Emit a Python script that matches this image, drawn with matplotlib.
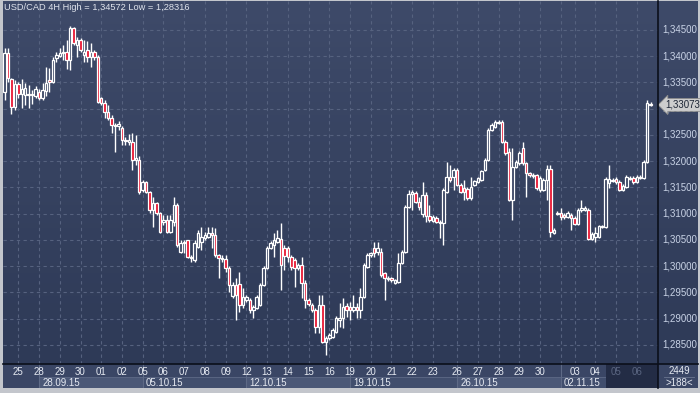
import numpy as np
import matplotlib
matplotlib.use("Agg")
import matplotlib.pyplot as plt
from matplotlib.patches import Rectangle
from matplotlib.lines import Line2D
from matplotlib.transforms import blended_transform_factory
from matplotlib.colors import LinearSegmentedColormap

plt.rcParams['font.family'] = ['Liberation Sans', 'DejaVu Sans']

# ---------------- data (USD/CAD 4H candles) ----------------
opens = [1.3332, 1.3406, 1.3357, 1.3303, 1.3347, 1.3328, 1.3326, 1.3328, 1.3326, 1.3324,
         1.3332, 1.3321, 1.3334, 1.3355, 1.3351, 1.3397, 1.3400, 1.3406, 1.3408, 1.3393,
         1.3454, 1.3421, 1.3431, 1.3402, 1.3412, 1.3399, 1.3408, 1.3399, 1.3321, 1.3311,
         1.3294, 1.3282, 1.3269, 1.3267, 1.3263, 1.3241, 1.3237, 1.3237, 1.3202, 1.3202,
         1.3145, 1.3160, 1.3141, 1.3107, 1.3120, 1.3101, 1.3084, 1.3088, 1.3065, 1.3084,
         1.3117, 1.3027, 1.3044, 1.3050, 1.3018, 1.3012, 1.3037, 1.3046, 1.3054, 1.3056,
         1.3063, 1.3060, 1.3021, 1.3016, 1.3014, 1.2997, 1.2943, 1.2964, 1.2966, 1.2926,
         1.2936, 1.2936, 1.2917, 1.2920, 1.2926, 1.2964, 1.2997, 1.3035, 1.3040, 1.3046,
         1.3052, 1.3035, 1.3035, 1.3018, 1.3012, 1.2997, 1.3002, 1.2968, 1.2936, 1.2926,
         1.2917, 1.2884, 1.2926, 1.2856, 1.2863, 1.2865, 1.2875, 1.2898, 1.2901, 1.2924,
         1.2922, 1.2917, 1.2922, 1.2917, 1.2941, 1.2999, 1.3021, 1.3035, 1.3027, 1.3027,
         1.2987, 1.2976, 1.2978, 1.2968, 1.2970, 1.3006, 1.3027, 1.3113, 1.3138, 1.3140,
         1.3122, 1.3100, 1.3136, 1.3096, 1.3086, 1.3092, 1.3082, 1.3082, 1.3141, 1.3170,
         1.3170, 1.3183, 1.3155, 1.3149, 1.3147, 1.3130, 1.3155, 1.3160, 1.3164, 1.3183,
         1.3202, 1.3260, 1.3265, 1.3273, 1.3275, 1.3237, 1.3218, 1.3126, 1.3189, 1.3196,
         1.3225, 1.3196, 1.3178, 1.3174, 1.3174, 1.3145, 1.3145, 1.3164, 1.3185, 1.3063,
         1.3100, 1.3101, 1.3098, 1.3094, 1.3098, 1.3092, 1.3081, 1.3107, 1.3107, 1.3107,
         1.3052, 1.3056, 1.3056, 1.3075, 1.3075, 1.3159, 1.3162, 1.3166, 1.3160, 1.3145,
         1.3151, 1.3166, 1.3168, 1.3160, 1.3168, 1.3168, 1.3198, 1.3309]
highs = [1.3416, 1.3416, 1.3359, 1.3355, 1.3351, 1.3357, 1.3349, 1.3345, 1.3336, 1.3343,
         1.3338, 1.3349, 1.3380, 1.3378, 1.3399, 1.3408, 1.3416, 1.3421, 1.3431, 1.34572,
         1.3456, 1.3437, 1.3435, 1.3431, 1.3429, 1.3425, 1.3412, 1.3402, 1.3322, 1.3317,
         1.3307, 1.3288, 1.3273, 1.3277, 1.3267, 1.3246, 1.3252, 1.3254, 1.3250, 1.3210,
         1.3164, 1.3162, 1.3143, 1.3132, 1.3122, 1.3103, 1.3098, 1.3098, 1.3098, 1.3132,
         1.3120, 1.3050, 1.3050, 1.3050, 1.3021, 1.3050, 1.3069, 1.3075, 1.3065, 1.3075,
         1.3075, 1.3073, 1.3023, 1.3021, 1.3021, 1.3000, 1.2970, 1.2978, 1.2989, 1.2959,
         1.2945, 1.2940, 1.2926, 1.2945, 1.2968, 1.3000, 1.3039, 1.3048, 1.3063, 1.3069,
         1.3082, 1.3040, 1.3039, 1.3021, 1.3016, 1.3006, 1.3018, 1.2974, 1.2940, 1.2930,
         1.2920, 1.2945, 1.2945, 1.2867, 1.2873, 1.2882, 1.2905, 1.2930, 1.2940, 1.2930,
         1.2932, 1.2945, 1.2930, 1.2959, 1.3006, 1.3025, 1.3027, 1.3046, 1.3046, 1.3035,
         1.2989, 1.2981, 1.2980, 1.2976, 1.3025, 1.3031, 1.3117, 1.3145, 1.3145, 1.3143,
         1.3132, 1.3160, 1.3141, 1.3117, 1.3098, 1.3096, 1.3088, 1.3149, 1.3198, 1.3193,
         1.3187, 1.3187, 1.3159, 1.3164, 1.3151, 1.3170, 1.3164, 1.3170, 1.3183, 1.3206,
         1.3263, 1.3273, 1.3279, 1.3279, 1.3279, 1.3241, 1.3225, 1.3225, 1.3202, 1.3220,
         1.3237, 1.3198, 1.3180, 1.3178, 1.3176, 1.3172, 1.3168, 1.3193, 1.3193, 1.3073,
         1.3105, 1.3111, 1.3101, 1.3105, 1.3101, 1.3096, 1.3111, 1.3126, 1.3115, 1.3111,
         1.3065, 1.3075, 1.3079, 1.3079, 1.3170, 1.3193, 1.3168, 1.3170, 1.3164, 1.3157,
         1.3174, 1.3172, 1.3172, 1.3174, 1.3174, 1.3202, 1.3317, 1.3313]
lows = [1.3317, 1.3351, 1.3290, 1.3298, 1.3321, 1.3302, 1.3307, 1.3302, 1.3309, 1.3321,
        1.3317, 1.3317, 1.3324, 1.3332, 1.3349, 1.3389, 1.3399, 1.3393, 1.3376, 1.3374,
        1.3421, 1.3399, 1.3408, 1.3389, 1.3389, 1.3380, 1.3393, 1.3311, 1.3307, 1.3282,
        1.3279, 1.3254, 1.3218, 1.3260, 1.3231, 1.3231, 1.3231, 1.3183, 1.3193, 1.3138,
        1.3141, 1.3140, 1.3101, 1.3075, 1.3098, 1.3063, 1.3079, 1.3063, 1.3063, 1.3077,
        1.3037, 1.3025, 1.3025, 1.3016, 1.3008, 1.3008, 1.3035, 1.3031, 1.3050, 1.3054,
        1.3035, 1.3018, 1.2978, 1.3008, 1.2989, 1.2951, 1.2939, 1.2898, 1.2913, 1.2920,
        1.2932, 1.2911, 1.2901, 1.2919, 1.2924, 1.2962, 1.2995, 1.3033, 1.3018, 1.3044,
        1.2955, 1.2993, 1.3008, 1.2993, 1.2960, 1.2993, 1.2939, 1.2920, 1.2924, 1.2913,
        1.2873, 1.2873, 1.2854, 1.28316, 1.2860, 1.2863, 1.2873, 1.2884, 1.2882, 1.2903,
        1.2898, 1.2913, 1.2901, 1.2901, 1.2939, 1.2997, 1.3018, 1.3018, 1.3021, 1.2980,
        1.2936, 1.2972, 1.2970, 1.2966, 1.2968, 1.3004, 1.3025, 1.3111, 1.3107, 1.3120,
        1.3107, 1.3094, 1.3084, 1.3084, 1.3084, 1.3082, 1.3054, 1.3040, 1.3140, 1.3160,
        1.3145, 1.3153, 1.3140, 1.3126, 1.3126, 1.3126, 1.3153, 1.3159, 1.3162, 1.3181,
        1.3200, 1.3258, 1.3263, 1.3271, 1.3235, 1.3212, 1.3124, 1.3088, 1.3187, 1.3193,
        1.3193, 1.3132, 1.3170, 1.3168, 1.3145, 1.3141, 1.3143, 1.3126, 1.3056, 1.3061,
        1.3098, 1.3088, 1.3090, 1.3092, 1.3069, 1.3079, 1.3079, 1.3103, 1.3105, 1.3050,
        1.3050, 1.3046, 1.3054, 1.3073, 1.3073, 1.3149, 1.3160, 1.3157, 1.3143, 1.3143,
        1.3149, 1.3164, 1.3157, 1.3159, 1.3166, 1.3166, 1.3196, 1.3305]
closes = [1.3406, 1.3359, 1.3303, 1.3347, 1.3328, 1.3338, 1.3340, 1.3326, 1.3328, 1.3338,
          1.3321, 1.3336, 1.3349, 1.3351, 1.3393, 1.3402, 1.3406, 1.3408, 1.3393, 1.3454,
          1.3425, 1.3431, 1.3412, 1.3408, 1.3399, 1.3408, 1.3399, 1.3313, 1.3311, 1.3294,
          1.3282, 1.3269, 1.3267, 1.3271, 1.3241, 1.3239, 1.3241, 1.3202, 1.3206, 1.3141,
          1.3160, 1.3141, 1.3107, 1.3120, 1.3101, 1.3065, 1.3088, 1.3065, 1.3088, 1.3117,
          1.3040, 1.3044, 1.3046, 1.3018, 1.3016, 1.3044, 1.3063, 1.3056, 1.3060, 1.3063,
          1.3060, 1.3021, 1.3016, 1.3014, 1.2997, 1.2964, 1.2964, 1.2945, 1.2926, 1.2941,
          1.2941, 1.2917, 1.2922, 1.2941, 1.2964, 1.2997, 1.3035, 1.3044, 1.3050, 1.3054,
          1.3002, 1.3019, 1.3018, 1.2999, 1.2997, 1.3002, 1.2968, 1.2936, 1.2928, 1.2917,
          1.2884, 1.2926, 1.2856, 1.2863, 1.2869, 1.2879, 1.2901, 1.2901, 1.2922, 1.2917,
          1.2917, 1.2922, 1.2917, 1.2941, 1.3002, 1.3021, 1.3025, 1.3025, 1.3035, 1.2983,
          1.2978, 1.2978, 1.2974, 1.2974, 1.3006, 1.3027, 1.3113, 1.3138, 1.3141, 1.3122,
          1.3113, 1.3136, 1.3096, 1.3088, 1.3094, 1.3084, 1.3084, 1.3145, 1.3170, 1.3164,
          1.3183, 1.3155, 1.3141, 1.3141, 1.3130, 1.3151, 1.3162, 1.3168, 1.3181, 1.3202,
          1.3260, 1.3269, 1.3275, 1.3275, 1.3237, 1.3216, 1.3126, 1.3189, 1.3198, 1.3216,
          1.3196, 1.3178, 1.3174, 1.3172, 1.3149, 1.3168, 1.3164, 1.3185, 1.3065, 1.3069,
          1.3101, 1.3094, 1.3094, 1.3101, 1.3092, 1.3081, 1.3107, 1.3111, 1.3111, 1.3052,
          1.3061, 1.3063, 1.3077, 1.3077, 1.3166, 1.3166, 1.3164, 1.3160, 1.3145, 1.3153,
          1.3170, 1.3168, 1.3160, 1.3170, 1.3170, 1.3198, 1.3311, 1.33073]

day_ticks = [4, 10, 16, 22, 28, 34, 40, 46, 52, 58, 64, 70, 76, 82, 88, 94,
             100, 106, 112, 118, 124, 131, 137, 143, 149, 155, 161, 165, 171, 177, 183]
day_labels = ['25', '28', '29', '30', '01', '02', '05', '06', '07', '08', '09',
              '12', '13', '14', '15', '16', '19', '20', '21', '22', '23',
              '26', '27', '28', '29', '30', '', '03', '04', '05', '06']
week_ticks = [10, 40, 70, 100, 131, 161]
week_labels = ['28.09.15', '05.10.15', '12.10.15', '19.10.15', '26.10.15', '02.11.15']
price_ticks = [1.285, 1.290, 1.295, 1.300, 1.305, 1.310, 1.315, 1.320,
               1.325, 1.330, 1.335, 1.340, 1.345]
title = 'USD/CAD 4H High = 1,34572 Low = 1,28316'
last_price = 1.33073
bars_total, bars_visible = '2449', '>188<'

# ---------------- layout ----------------
W, H = 700, 393
fig = plt.figure(figsize=(W / 100, H / 100), dpi=100)
fig.patch.set_facecolor('#c3c6cc')


def fr(x0, y0, x1, y1):
    return [x0 / W, 1 - y1 / H, (x1 - x0) / W, (y1 - y0) / H]


bg = fig.add_axes(fr(3, 1, 698, 364))
bg.set_axis_off()
grad = np.linspace(0, 1, 256).reshape(-1, 1)
cmap = LinearSegmentedColormap.from_list('bg', ['#3e4a69', '#2e3a57'])
bg.imshow(grad, aspect='auto', cmap=cmap, extent=[0, 1, 0, 1], origin='upper')

ax = fig.add_axes(fr(3, 1, 658, 364))
ax.set_facecolor('none')
for s in ax.spines.values():
    s.set_visible(False)

o = np.array(opens)
c = np.array(closes)
hi = np.array(highs)
lo = np.array(lows)
x = np.arange(len(c))

first_px, step_px = 4.5, 3.455
xlim = ((3 - first_px) / step_px, (658 - first_px) / step_px)

grid_kw = dict(color='#56627f', lw=0.8, ls=(0, (3, 3)), zorder=1)
for p in price_ticks:
    ax.axhline(p, **grid_kw)
for d in day_ticks:
    ax.axvline(d, **grid_kw)

ax.vlines(x, lo, hi, color='white', lw=1.0, zorder=3)
down = c < o
fills = np.where(down, '#e8102c', '#34405e')
bottoms = np.minimum(o, c)
heights = np.maximum(np.abs(c - o), 0.00004)
ax.bar(x, heights, bottom=bottoms, width=0.72, color=fills,
       edgecolor='white', linewidth=0.9, zorder=4)

ax.set_xlim(*xlim)
ax.set_ylim(1.28138, 1.35052)
ax.set_xticks([])
ax.set_yticks([])

tr = blended_transform_factory(ax.transAxes, ax.transData)
for p in price_ticks:
    ax.text(1 + 4 / 655, p, f"{p:.5f}".replace('.', ','), transform=tr,
            ha='left', va='center', fontsize=7, color='#c9d3e6', clip_on=False)
ax.text(1 + 7 / 655, last_price, f"{last_price:.5f}".replace('.', ','), transform=tr,
        ha='left', va='center', fontsize=7, color='#1d2535', clip_on=False, zorder=10,
        bbox=dict(boxstyle='larrow,pad=0.15', fc='#cdcdcd', ec='#8a8a8a', lw=0.6))

# ---------------- bottom band ----------------
band = fig.add_axes(fr(3, 364, 658, 388))
band.set_axis_off()
band.set_xlim(*xlim)
band.set_ylim(0, 1)
band.add_patch(Rectangle((xlim[0], 0), xlim[1] - xlim[0], 1, fc='#3a4665', ec='none', zorder=0))
dark_start = (day_ticks[-3] + day_ticks[-2]) / 2
for k, wt in enumerate(week_ticks):
    end = week_ticks[k + 1] if k + 1 < len(week_ticks) else dark_start
    band.add_patch(Rectangle((wt, 0.02), end - wt, 0.44,
                             fc='#4b5877' if k % 2 == 0 else '#414e6d',
                             ec='#5e6a86', lw=0.6, zorder=1))
    band.plot([wt, wt], [0, 1], color='#5e6a86', lw=0.8, zorder=2)
    band.text(wt + 0.9, 0.21, week_labels[k], ha='left', va='center',
              fontsize=7, color='#e6eaf2', zorder=5)
band.add_patch(Rectangle((dark_start, 0), xlim[1] - dark_start, 1,
                         fc='#232c45', ec='none', zorder=3))
for d, lab in zip(day_ticks, day_labels):
    col = '#5b6682' if d > dark_start else '#e6eaf2'
    band.text(d, 0.66, lab, ha='center', va='center', fontsize=7, color=col, zorder=5)

# right panel of band
fig.add_artist(Rectangle((658 / W, 1 - 388 / H), 40 / W, 24 / H,
                         transform=fig.transFigure, fc='#3a4665', ec='none'))
fig.text(679 / W, 1 - 371 / H, bars_total, ha='center', va='center', fontsize=7, color='#e6eaf2')
fig.text(679 / W, 1 - 383 / H, bars_visible, ha='center', va='center', fontsize=7, color='#e6eaf2')
fig.add_artist(Line2D([664 / W, 694 / W], [1 - 377 / H] * 2, color='#6a7590', lw=0.6,
                      transform=fig.transFigure))

# separator lines
fig.add_artist(Line2D([3 / W, 698 / W], [1 - 364 / H] * 2, color='#0b0f1a', lw=1.2,
                      transform=fig.transFigure))
fig.add_artist(Line2D([658 / W] * 2, [1 - 1 / H, 1 - 388 / H], color='#0b0f1a', lw=1.2,
                      transform=fig.transFigure))

fig.text(4 / W, 1 - 8 / H, title, ha='left', va='center', fontsize=6.7, color='#dfe3ec')

fig.savefig('out.png', dpi=100)
